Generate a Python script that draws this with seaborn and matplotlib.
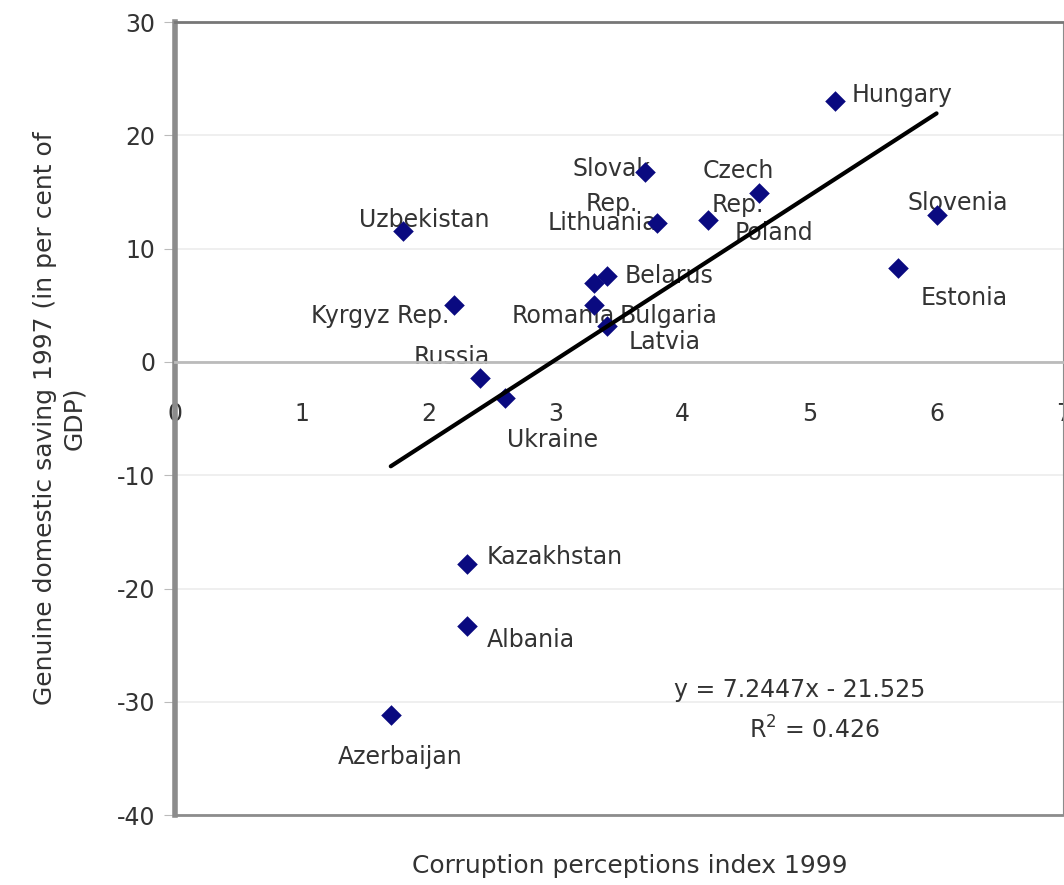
import pandas as pd
import matplotlib.pyplot as plt
import numpy as np
import seaborn as sns

#%% data
countries = ['Hungary', 'Slovenia', 'Estonia', 'Czech\nRep.', 'Poland', 'Slovak\nRep.',
             'Lithuania', 'Belarus', 'Bulgaria', 'Romania', 'Latvia', 'Uzbekistan',
             'Kyrgyz Rep.', 'Russia', 'Ukraine', 'Kazakhstan', 'Albania', 'Azerbaijan']
cpi_1999 = [5.2, 6.0, 5.7, 4.6, 4.2, 3.7, 3.8, 3.4, 3.3, 3.3, 3.4, 1.8,
            2.2, 2.4, 2.6, 2.3, 2.3, 1.7]
saving_1997 = [23.0, 13.0, 8.3, 14.9, 12.5, 16.8, 12.3, 7.6, 7.0, 5.0, 3.2, 11.6,
               5.0, -1.4, -3.2, -17.8, -23.3, -31.2]
# label offsets in pixels (dx, dy, ha)
label_pos = [(17, 6, 'left'), (21, 12, 'center'), (66, -30, 'center'), (-21, 5, 'center'),
             (27, -13, 'left'), (-33, -15, 'center'), (-55, 0, 'center'), (18, 0, 'left'),
             (26, -33, 'left'), (-31, -11, 'center'), (58, -16, 'center'), (21, 11, 'center'),
             (-74, -11, 'center'), (-28, 21, 'center'), (48, -42, 'center'), (20, 7, 'left'),
             (20, -14, 'left'), (9, -42, 'center')]
slope, intercept, r2 = 7.2447, -21.525, 0.426

df = pd.DataFrame({'country': countries, 'cpi': cpi_1999, 'saving': saving_1997})

#%% plot
sns.set_style("white")
plt.rcParams['font.family'] = ['DejaVu Sans']
plt.rcParams['axes.unicode_minus'] = False
txt_col = '#333333'
axis_col = '#8c8c8c'
fs = 17

fig = plt.figure(figsize=(10.64, 8.85), dpi=100)
ax = fig.add_axes([0.1645, 0.079, 0.8350, 0.896])

sns.scatterplot(data=df, x='cpi', y='saving', marker='D', s=110, color='#0a0a80',
                edgecolor='#0a0a80', linewidth=0, ax=ax, zorder=3)

# trendline from the fitted equation
xl = np.array([df.cpi.min(), df.cpi.max()])
sns.lineplot(x=xl, y=slope * xl + intercept, color='black', linewidth=3, ax=ax, zorder=4)

for name, x, y, (dx, dy, ha) in zip(countries, cpi_1999, saving_1997, label_pos):
    ax.annotate(name, (x, y), xytext=(dx, dy), textcoords='offset pixels',
                ha=ha, va='center', fontsize=fs, color=txt_col, linespacing=1.55, zorder=2)

ax.text(4.92, -28.95, 'y = 7.2447x - 21.525', ha='center', va='center', fontsize=fs, color=txt_col)
ax.text(5.04, -32.5, 'R$^2$ = %.3f' % r2, ha='center', va='center', fontsize=fs, color=txt_col)

ax.set_xlim(0, 7)
ax.set_ylim(-40, 30)
ax.set_xticks(range(0, 8))
ax.set_yticks(range(-40, 31, 10))
ax.yaxis.grid(True, color='#ececec', linewidth=1.2)
ax.set_axisbelow(True)

# x axis crosses at y = 0
ax.spines['bottom'].set_position(('data', 0))
ax.spines['bottom'].set_color('#bbbbbb')
ax.spines['bottom'].set_linewidth(2)
ax.axhline(-40, color=axis_col, linewidth=2, clip_on=False)
ax.spines['left'].set_color(axis_col)
ax.spines['left'].set_linewidth(4)
ax.spines['top'].set_color('#777777')
ax.spines['top'].set_linewidth(2)
ax.spines['right'].set_color(axis_col)

ax.tick_params(axis='x', direction='inout', length=6, color='#bbbbbb', pad=26,
               labelsize=fs, labelcolor=txt_col)
ax.tick_params(axis='y', direction='out', length=8, color='#bbbbbb', pad=6,
               labelsize=fs, labelcolor=txt_col, left=True)

ax.set_xlabel('')
ax.set_ylabel('Genuine domestic saving 1997 (in per cent of\nGDP)', fontsize=18,
              color=txt_col, labelpad=22, linespacing=1.3)
fig.text(0.592, 0.022, 'Corruption perceptions index 1999', ha='center', va='center',
         fontsize=18, color=txt_col)

fig.savefig('out.png', dpi=100)
